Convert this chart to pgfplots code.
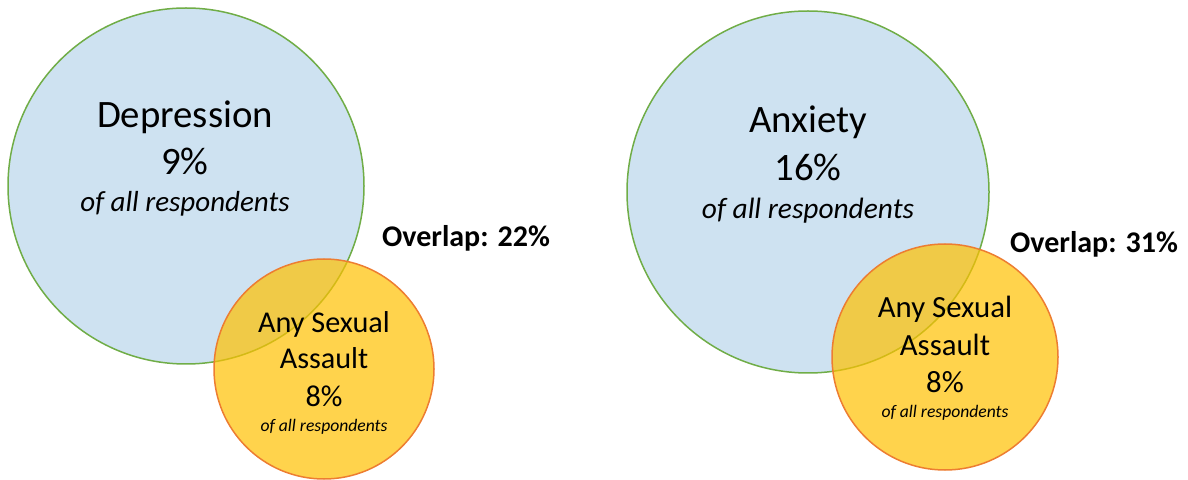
\documentclass[border=0pt]{standalone}
\usepackage{pgfplots}
\pgfplotsset{compat=1.18}
\usepackage{fontspec}
\setmainfont{Carlito}
\definecolor{bluefill}{RGB}{206,226,241}
\definecolor{greenline}{RGB}{112,173,71}
\definecolor{yellowfill}{RGB}{255,192,0}
\definecolor{orangeline}{RGB}{237,125,49}
\newcommand{\fs}[1]{\fontsize{#1}{#1}\selectfont}
\begin{document}
\begin{tikzpicture}
\begin{axis}[
  x=0.5pt, y=0.5pt,
  xmin=0, xmax=1188, ymin=0, ymax=480,
  y dir=reverse,
  hide axis, scale only axis, clip=false,
]
\path (axis cs:0,0) rectangle (axis cs:1188,480);
% big circles (centre x, centre y); radius in px * 0.5pt
\addplot[only marks, mark=*, mark size=89pt,
  mark options={fill=bluefill, draw=greenline, line width=0.75pt}]
  coordinates {(186,186)};
\addplot[only marks, mark=*, mark size=90.5pt,
  mark options={fill=bluefill, draw=greenline, line width=0.75pt}]
  coordinates {(808,192)};
% small circles
\addplot[only marks, mark=*, mark size=55pt,
  mark options={fill=yellowfill, fill opacity=0.7, draw=orangeline, line width=0.75pt}]
  coordinates {(324,369)};
\addplot[only marks, mark=*, mark size=56.5pt,
  mark options={fill=yellowfill, fill opacity=0.7, draw=orangeline, line width=0.75pt}]
  coordinates {(945,357)};

% anchor points for labels
\coordinate (L1) at (axis cs:185,128);
\coordinate (L2) at (axis cs:185,175);
\coordinate (L3) at (axis cs:185,212);
\coordinate (L4) at (axis cs:466,247);
\coordinate (L5) at (axis cs:324,333);
\coordinate (L6) at (axis cs:324,369);
\coordinate (L7) at (axis cs:324,407);
\coordinate (L8) at (axis cs:324,432);
\coordinate (R1) at (axis cs:808,133);
\coordinate (R2) at (axis cs:808,181);
\coordinate (R3) at (axis cs:808,219);
\coordinate (R4) at (axis cs:1094,253);
\coordinate (R5) at (axis cs:945,318);
\coordinate (R6) at (axis cs:945,356);
\coordinate (R7) at (axis cs:945,393);
\coordinate (R8) at (axis cs:945,418);
\end{axis}

\node[anchor=base, inner sep=0] at (L1) {\fs{19.4}Depression};
\node[anchor=base, inner sep=0] at (L2) {\fs{19.4}9\%};
\node[anchor=base, inner sep=0] at (L3) {\fs{14.5}\itshape of all respondents};
\node[anchor=base, inner sep=0] at (L4) {\fs{15}\bfseries Overlap: 22\%};
\node[anchor=base, inner sep=0] at (L5) {\fs{15.1}Any Sexual};
\node[anchor=base, inner sep=0] at (L6) {\fs{15.1}Assault};
\node[anchor=base, inner sep=0] at (L7) {\fs{15.1}8\%};
\node[anchor=base, inner sep=0] at (L8) {\fs{8.8}\itshape of all respondents};

\node[anchor=base, inner sep=0] at (R1) {\fs{19.4}Anxiety};
\node[anchor=base, inner sep=0] at (R2) {\fs{19.4}16\%};
\node[anchor=base, inner sep=0] at (R3) {\fs{14.7}\itshape of all respondents};
\node[anchor=base, inner sep=0] at (R4) {\fs{15}\bfseries Overlap: 31\%};
\node[anchor=base, inner sep=0] at (R5) {\fs{15.4}Any Sexual};
\node[anchor=base, inner sep=0] at (R6) {\fs{15.4}Assault};
\node[anchor=base, inner sep=0] at (R7) {\fs{15.4}8\%};
\node[anchor=base, inner sep=0] at (R8) {\fs{8.8}\itshape of all respondents};
\end{tikzpicture}
\end{document}
